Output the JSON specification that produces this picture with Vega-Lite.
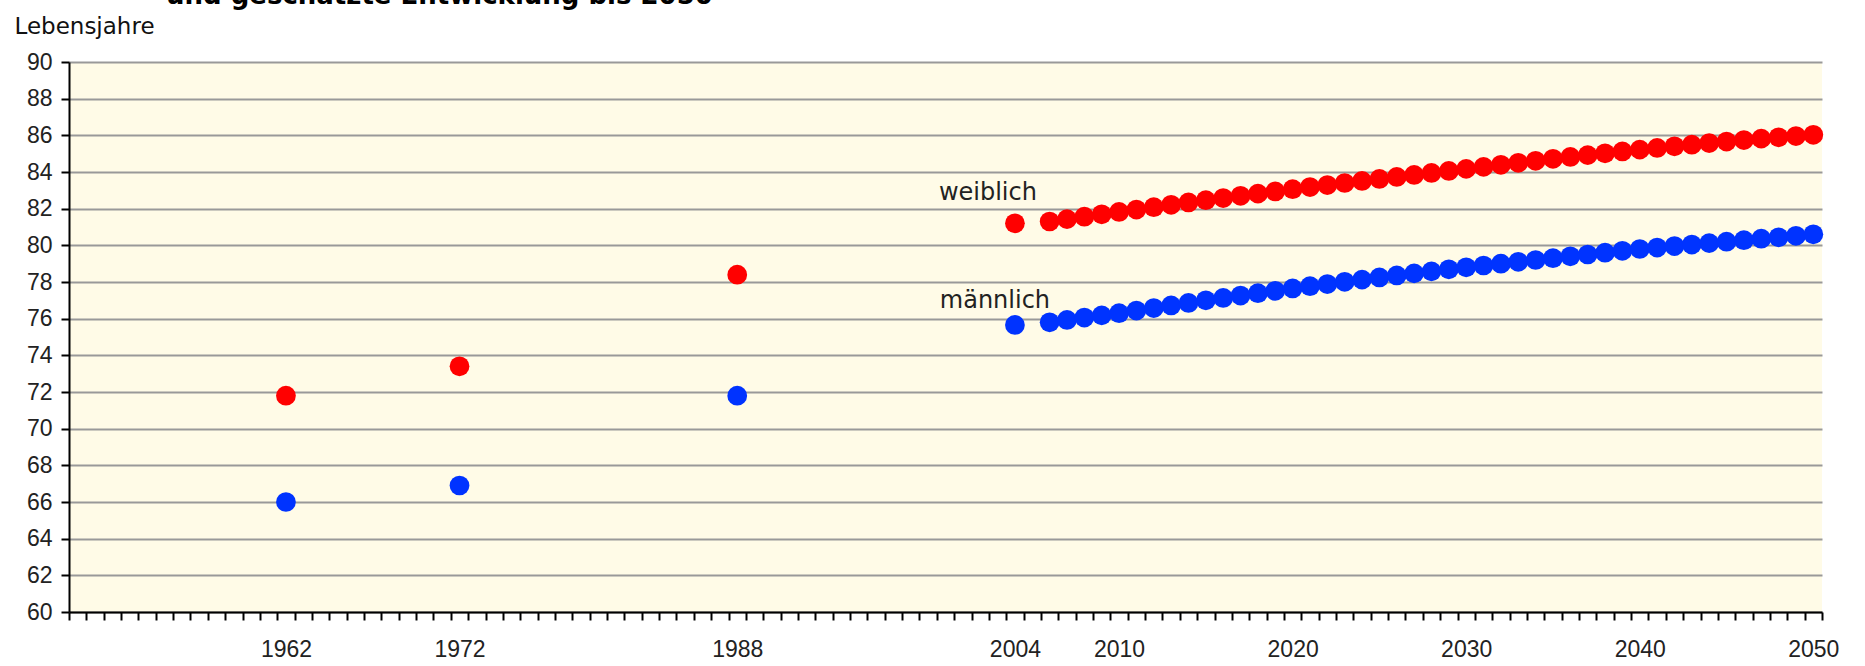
{
  "$schema": "https://vega.github.io/schema/vega-lite/v6.json",
  "width": 1753,
  "height": 550,
  "autosize": {"type": "none"},
  "padding": {"left": 69, "top": 62, "right": 43, "bottom": 54},
  "background": "white",
  "title": {
    "text": "und geschätzte Entwicklung bis 2050",
    "anchor": "start",
    "frame": "group",
    "dx": 97,
    "offset": 6,
    "font": "DejaVu Sans",
    "fontSize": 26,
    "fontWeight": "bold",
    "color": "black"
  },
  "config": {
    "view": {"fill": "#fffbe7", "stroke": null}
  },
  "data": {
    "values": [
      {"year": 1962, "sex": "weiblich", "value": 71.8},
      {"year": 1972, "sex": "weiblich", "value": 73.4},
      {"year": 1988, "sex": "weiblich", "value": 78.4},
      {"year": 2004, "sex": "weiblich", "value": 81.2},
      {"year": 2006, "sex": "weiblich", "value": 81.3},
      {"year": 2007, "sex": "weiblich", "value": 81.43},
      {"year": 2008, "sex": "weiblich", "value": 81.56},
      {"year": 2009, "sex": "weiblich", "value": 81.69},
      {"year": 2010, "sex": "weiblich", "value": 81.82},
      {"year": 2011, "sex": "weiblich", "value": 81.95},
      {"year": 2012, "sex": "weiblich", "value": 82.08},
      {"year": 2013, "sex": "weiblich", "value": 82.21},
      {"year": 2014, "sex": "weiblich", "value": 82.34},
      {"year": 2015, "sex": "weiblich", "value": 82.46},
      {"year": 2016, "sex": "weiblich", "value": 82.58},
      {"year": 2017, "sex": "weiblich", "value": 82.7},
      {"year": 2018, "sex": "weiblich", "value": 82.82},
      {"year": 2019, "sex": "weiblich", "value": 82.94},
      {"year": 2020, "sex": "weiblich", "value": 83.06},
      {"year": 2021, "sex": "weiblich", "value": 83.18},
      {"year": 2022, "sex": "weiblich", "value": 83.29},
      {"year": 2023, "sex": "weiblich", "value": 83.4},
      {"year": 2024, "sex": "weiblich", "value": 83.51},
      {"year": 2025, "sex": "weiblich", "value": 83.62},
      {"year": 2026, "sex": "weiblich", "value": 83.73},
      {"year": 2027, "sex": "weiblich", "value": 83.84},
      {"year": 2028, "sex": "weiblich", "value": 83.95},
      {"year": 2029, "sex": "weiblich", "value": 84.06},
      {"year": 2030, "sex": "weiblich", "value": 84.17},
      {"year": 2031, "sex": "weiblich", "value": 84.28},
      {"year": 2032, "sex": "weiblich", "value": 84.39},
      {"year": 2033, "sex": "weiblich", "value": 84.5},
      {"year": 2034, "sex": "weiblich", "value": 84.61},
      {"year": 2035, "sex": "weiblich", "value": 84.72},
      {"year": 2036, "sex": "weiblich", "value": 84.82},
      {"year": 2037, "sex": "weiblich", "value": 84.92},
      {"year": 2038, "sex": "weiblich", "value": 85.02},
      {"year": 2039, "sex": "weiblich", "value": 85.12},
      {"year": 2040, "sex": "weiblich", "value": 85.22},
      {"year": 2041, "sex": "weiblich", "value": 85.31},
      {"year": 2042, "sex": "weiblich", "value": 85.4},
      {"year": 2043, "sex": "weiblich", "value": 85.49},
      {"year": 2044, "sex": "weiblich", "value": 85.58},
      {"year": 2045, "sex": "weiblich", "value": 85.66},
      {"year": 2046, "sex": "weiblich", "value": 85.74},
      {"year": 2047, "sex": "weiblich", "value": 85.82},
      {"year": 2048, "sex": "weiblich", "value": 85.89},
      {"year": 2049, "sex": "weiblich", "value": 85.96},
      {"year": 2050, "sex": "weiblich", "value": 86.03},
      {"year": 1962, "sex": "männlich", "value": 66.0},
      {"year": 1972, "sex": "männlich", "value": 66.9},
      {"year": 1988, "sex": "männlich", "value": 71.8},
      {"year": 2004, "sex": "männlich", "value": 75.66},
      {"year": 2006, "sex": "männlich", "value": 75.8},
      {"year": 2007, "sex": "männlich", "value": 75.93},
      {"year": 2008, "sex": "männlich", "value": 76.06},
      {"year": 2009, "sex": "männlich", "value": 76.18},
      {"year": 2010, "sex": "männlich", "value": 76.3},
      {"year": 2011, "sex": "männlich", "value": 76.44},
      {"year": 2012, "sex": "männlich", "value": 76.58},
      {"year": 2013, "sex": "männlich", "value": 76.72},
      {"year": 2014, "sex": "männlich", "value": 76.86},
      {"year": 2015, "sex": "männlich", "value": 77.0},
      {"year": 2016, "sex": "männlich", "value": 77.13},
      {"year": 2017, "sex": "männlich", "value": 77.26},
      {"year": 2018, "sex": "männlich", "value": 77.39},
      {"year": 2019, "sex": "männlich", "value": 77.52},
      {"year": 2020, "sex": "männlich", "value": 77.65},
      {"year": 2021, "sex": "männlich", "value": 77.77},
      {"year": 2022, "sex": "männlich", "value": 77.89},
      {"year": 2023, "sex": "männlich", "value": 78.01},
      {"year": 2024, "sex": "männlich", "value": 78.13},
      {"year": 2025, "sex": "männlich", "value": 78.25},
      {"year": 2026, "sex": "männlich", "value": 78.36},
      {"year": 2027, "sex": "männlich", "value": 78.47},
      {"year": 2028, "sex": "männlich", "value": 78.58},
      {"year": 2029, "sex": "männlich", "value": 78.69},
      {"year": 2030, "sex": "männlich", "value": 78.8},
      {"year": 2031, "sex": "männlich", "value": 78.9},
      {"year": 2032, "sex": "männlich", "value": 79.0},
      {"year": 2033, "sex": "männlich", "value": 79.1},
      {"year": 2034, "sex": "männlich", "value": 79.2},
      {"year": 2035, "sex": "männlich", "value": 79.3},
      {"year": 2036, "sex": "männlich", "value": 79.4},
      {"year": 2037, "sex": "männlich", "value": 79.5},
      {"year": 2038, "sex": "männlich", "value": 79.6},
      {"year": 2039, "sex": "männlich", "value": 79.7},
      {"year": 2040, "sex": "männlich", "value": 79.8},
      {"year": 2041, "sex": "männlich", "value": 79.88},
      {"year": 2042, "sex": "männlich", "value": 79.96},
      {"year": 2043, "sex": "männlich", "value": 80.04},
      {"year": 2044, "sex": "männlich", "value": 80.12},
      {"year": 2045, "sex": "männlich", "value": 80.2},
      {"year": 2046, "sex": "männlich", "value": 80.28},
      {"year": 2047, "sex": "männlich", "value": 80.36},
      {"year": 2048, "sex": "männlich", "value": 80.44},
      {"year": 2049, "sex": "männlich", "value": 80.52},
      {"year": 2050, "sex": "männlich", "value": 80.6}
    ]
  },
  "encoding": {
    "x": {
      "field": "year",
      "type": "quantitative",
      "scale": {"domain": [1949.5, 2050.5], "nice": false, "zero": false},
      "axis": {
        "title": null,
        "grid": false,
        "tickCount": 500,
        "tickMinStep": 0.25,
        "values": [1949.5, 1950.5, 1951.5, 1952.5, 1953.5, 1954.5, 1955.5, 1956.5, 1957.5, 1958.5, 1959.5, 1960.5, 1961.5, 1962, 1962.5, 1963.5, 1964.5, 1965.5, 1966.5, 1967.5, 1968.5, 1969.5, 1970.5, 1971.5, 1972, 1972.5, 1973.5, 1974.5, 1975.5, 1976.5, 1977.5, 1978.5, 1979.5, 1980.5, 1981.5, 1982.5, 1983.5, 1984.5, 1985.5, 1986.5, 1987.5, 1988, 1988.5, 1989.5, 1990.5, 1991.5, 1992.5, 1993.5, 1994.5, 1995.5, 1996.5, 1997.5, 1998.5, 1999.5, 2000.5, 2001.5, 2002.5, 2003.5, 2004, 2004.5, 2005.5, 2006.5, 2007.5, 2008.5, 2009.5, 2010, 2010.5, 2011.5, 2012.5, 2013.5, 2014.5, 2015.5, 2016.5, 2017.5, 2018.5, 2019.5, 2020, 2020.5, 2021.5, 2022.5, 2023.5, 2024.5, 2025.5, 2026.5, 2027.5, 2028.5, 2029.5, 2030, 2030.5, 2031.5, 2032.5, 2033.5, 2034.5, 2035.5, 2036.5, 2037.5, 2038.5, 2039.5, 2040, 2040.5, 2041.5, 2042.5, 2043.5, 2044.5, 2045.5, 2046.5, 2047.5, 2048.5, 2049.5, 2050, 2050.5],
        "labelExpr": "datum.value % 1 === 0 ? format(datum.value, 'd') : ''",
        "labelOverlap": false,
        "labelFlush": false,
        "labelBound": false,
        "labelFont": "Liberation Sans",
        "labelFontSize": 23,
        "labelColor": "#222222",
        "labelPadding": 18,
        "tickSize": 8,
        "tickWidth": 2,
        "tickColor": "black",
        "tickOpacity": {"condition": {"test": "datum.value % 1 !== 0", "value": 1}, "value": 0},
        "domainColor": "black",
        "domainWidth": 2
      }
    },
    "y": {
      "field": "value",
      "type": "quantitative",
      "scale": {"domain": [60, 90], "nice": false, "zero": false},
      "axis": {
        "title": "Lebensjahre",
        "titleAngle": 0,
        "titleX": -55,
        "titleY": -29,
        "titleAlign": "left",
        "titleBaseline": "alphabetic",
        "titleFont": "DejaVu Sans",
        "titleFontSize": 23,
        "titleFontWeight": "normal",
        "titleColor": "#111111",
        "values": [60, 62, 64, 66, 68, 70, 72, 74, 76, 78, 80, 82, 84, 86, 88, 90],
        "format": "d",
        "grid": true,
        "gridColor": "#999999",
        "gridWidth": 2,
        "domainColor": "black",
        "domainWidth": 2,
        "tickColor": "black",
        "tickSize": 8,
        "tickWidth": 2,
        "labelFont": "Liberation Sans",
        "labelFontSize": 23,
        "labelColor": "#222222",
        "labelPadding": 9
      }
    }
  },
  "layer": [
    {
      "mark": {"type": "circle", "size": 390, "opacity": 1},
      "encoding": {
        "color": {
          "field": "sex",
          "type": "nominal",
          "scale": {"domain": ["weiblich", "männlich"], "range": ["#ff0000", "#0033ff"]},
          "legend": null
        }
      }
    },
    {
      "transform": [{"filter": "datum.year === 2004 && datum.sex === 'weiblich'"}],
      "mark": {"type": "text", "dx": -27, "dy": -23, "align": "center", "baseline": "alphabetic", "font": "DejaVu Sans", "fontSize": 24, "color": "#222222"},
      "encoding": {"text": {"field": "sex"}}
    },
    {
      "transform": [{"filter": "datum.year === 2004 && datum.sex === 'männlich'"}],
      "mark": {"type": "text", "dx": -20, "dy": -17, "align": "center", "baseline": "alphabetic", "font": "DejaVu Sans", "fontSize": 24, "color": "#222222"},
      "encoding": {"text": {"field": "sex"}}
    }
  ]
}
